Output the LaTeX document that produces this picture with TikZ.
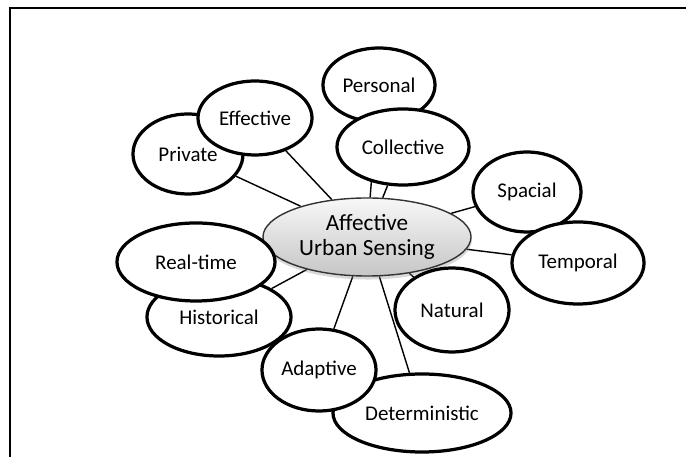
\documentclass[tikz,border=0pt]{standalone}
\usepackage{fontspec}
\setmainfont{Carlito}
\usetikzlibrary{shapes.geometric,shadows,backgrounds}

\tikzset{
	topic/.style={ellipse,draw,line width=2.3pt,fill=white,inner sep=0pt,font=\fontsize{14.9}{17}\selectfont},
	hub/.style={ellipse,draw=black!80,line width=1pt,top color=gray!6,bottom color=gray!45,inner sep=0pt,align=center,
		font=\fontsize{16.5}{17.5}\selectfont,drop shadow={opacity=.3,shadow xshift=.5pt,shadow yshift=-2.5pt}},
	link/.style={line width=1pt}
}

\begin{document}
\begin{tikzpicture}[x=0.025cm,y=-0.025cm]
		\useasboundingbox (0,0) rectangle (686,457);
		\draw[line width=1.2pt] (686,8) -- (10,8) -- (10,457);
		%centre
		\node[hub,minimum width=5.2cm,minimum height=1.95cm] (aus) at (367,237) {Affective\\Urban Sensing};
		%top
		\node[topic,minimum width=2.8cm,minimum height=1.85cm] (personal) at (379,85) {Personal};
		\node[topic,minimum width=3.3cm,minimum height=1.9cm] (collective) at (403,147) {Collective};
		\node[topic,minimum width=2.75cm,minimum height=2cm] (private) at (188,154) {Private};
		\node[topic,minimum width=2.85cm,minimum height=1.85cm] (effective) at (255,118) {Effective};
		%right
		\node[topic,minimum width=2.7cm,minimum height=2cm] (spacial) at (527,192) {Spacial};
		\node[topic,minimum width=3.3cm,minimum height=2.05cm] (temporal) at (578,263) {Temporal};
		%left
		\node[topic,minimum width=3.6cm,minimum height=1.95cm] (historical) at (219,317) {Historical};
		\node[topic,minimum width=3.95cm,minimum height=1.95cm] (realtime) at (196,262) {Real-time};
		%bottom
		\node[topic,minimum width=4.45cm,minimum height=1.95cm] (deterministic) at (422,413) {Deterministic};
		\node[topic,minimum width=2.85cm,minimum height=2.05cm] (adaptive) at (319,370) {Adaptive};
		\node[topic,minimum width=2.85cm,minimum height=2.1cm] (natural) at (452,310) {Natural};
		%links, kept under the ellipses
		\begin{scope}[on background layer]
			\draw[link] (aus) -- (private);
			\draw[link] (aus) -- (effective);
			\draw[link] (aus) -- (personal);
			\draw[link] (aus) -- (collective);
			\draw[link] (aus) -- (spacial);
			\draw[link] (aus) -- (temporal);
			\draw[link] (aus) -- (natural);
			\draw[link] (aus) -- (deterministic);
			\draw[link] (aus) -- (adaptive);
			\draw[link] (aus) -- (historical);
			\draw[link] (aus) -- (realtime);
		\end{scope}
	\end{tikzpicture}
\end{document}
